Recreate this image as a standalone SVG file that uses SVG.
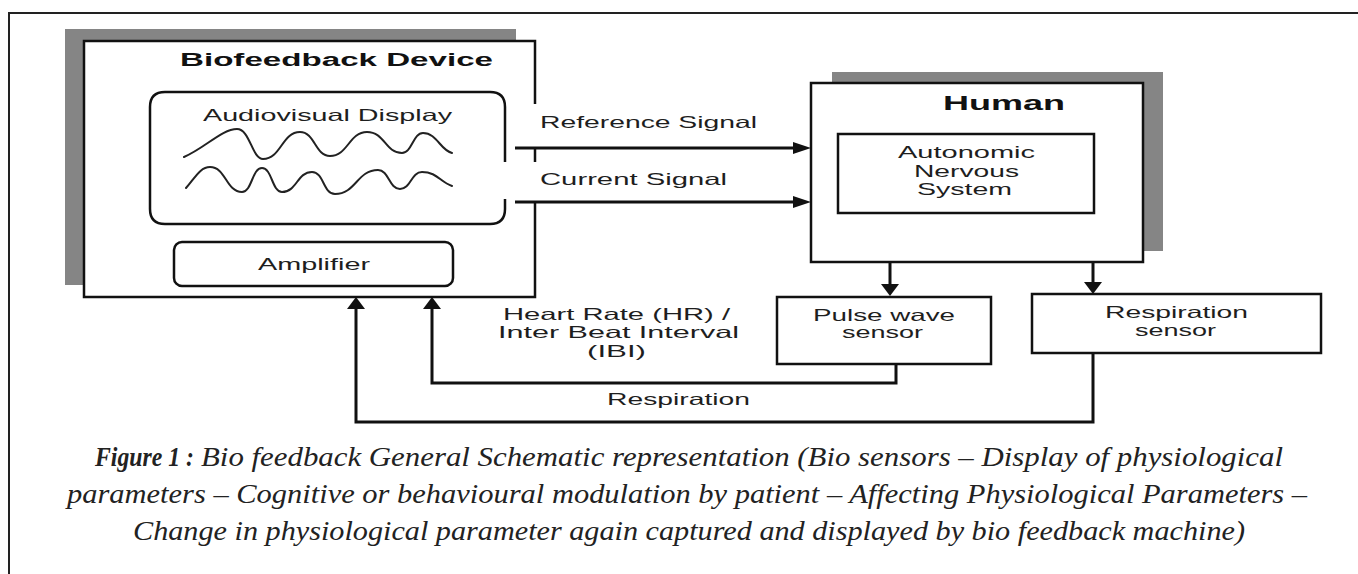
<svg xmlns="http://www.w3.org/2000/svg" width="1358" height="574" viewBox="0 0 1358 574">
  <style>
    .lbl { font-family: "Liberation Sans", Arial, sans-serif; font-size: 16.5px; fill: #1e1e1e; }
    .ttl { font-family: "Liberation Sans", Arial, sans-serif; font-weight: bold; fill: #111; }
    .box { fill: #fff; stroke: #111; stroke-width: 2.5; }
    .edge { fill: none; stroke: #111; stroke-width: 2.5; }
    .shadow { fill: #858585; }
    .wave { fill: none; stroke: #222; stroke-width: 2; stroke-linecap: round; stroke-linejoin: round; }
    .wire { fill: none; stroke: #111; stroke-width: 3; stroke-linejoin: miter; }
    .cap { font-family: "Liberation Serif", "Times New Roman", serif; font-style: italic; font-size: 27px; fill: #222; }
  </style>
  <defs>
    <marker id="arrowH" viewBox="0 0 18 12" refX="4" refY="6" markerWidth="18" markerHeight="12" markerUnits="userSpaceOnUse" orient="auto">
      <path d="M0,0 L18,6 L0,12 z" fill="#111"/>
    </marker>
    <marker id="arrowV" viewBox="0 0 12 18" refX="3" refY="9" markerWidth="12" markerHeight="18" markerUnits="userSpaceOnUse" orient="auto">
      <path d="M0,0 L12,9 L0,18 z" fill="#111"/>
    </marker>
  </defs>

  <!-- outer frame -->
  <path d="M9,574 V13 H1358" fill="none" stroke="#222" stroke-width="2"/>

  <!-- Biofeedback device -->
  <g id="biofeedback-device">
    <rect class="shadow" x="65" y="29" width="451" height="256"/>
    <rect x="84" y="41" width="451" height="256" fill="#fff"/>
    <path class="edge" d="M535,148 V162 M535,202 V297 H84 V41 H535 V104"/>
    <text class="ttl" x="180" y="66" font-size="18" textLength="313" lengthAdjust="spacingAndGlyphs">Biofeedback Device</text>
  </g>

  <g id="audiovisual-display">
    <path class="edge" d="M505,199 V209 Q505,224 490,224 H165 Q150,224 150,209 V107 Q150,92 165,92 H490 Q505,92 505,107 V162"/>
    <text class="lbl" x="203" y="121" textLength="249" lengthAdjust="spacingAndGlyphs">Audiovisual Display</text>
    <path class="wave" d="M184,157 C205,148 222,129 237,129 C250,129 252,159 263,159 C281,159 282,132 300,132 C315,132 315,156 330,156 C348,156 349,132 367,132 C385,132 385,153 402,153 C412,153 413,133 423,133 C437,133 440,150 452,153"/>
    <path class="wave" d="M186,188 C195,178 200,167 210,167 C226,167 226,192 242,192 C252,192 252,168 262,168 C272,168 272,192 282,192 C297,192 297,172 312,172 C324,172 323,194 335,194 C356,194 357,170 378,170 C389,170 389,189 400,189 C411,189 411,172 422,172 C437,172 440,182 452,186"/>
  </g>

  <g id="amplifier">
    <rect class="box" x="174" y="242" width="279" height="44" rx="8"/>
    <text class="lbl" x="258" y="270" textLength="112" lengthAdjust="spacingAndGlyphs">Amplifier</text>
  </g>

  <!-- Human -->
  <g id="human">
    <rect class="shadow" x="832" y="72" width="331" height="179"/>
    <rect class="box" x="811" y="83" width="332" height="179"/>
    <text class="ttl" x="943" y="110" font-size="20" textLength="122" lengthAdjust="spacingAndGlyphs">Human</text>
  </g>

  <g id="autonomic-nervous-system">
    <rect class="box" x="838" y="134" width="256" height="79"/>
    <text class="lbl" x="898" y="158" textLength="137" lengthAdjust="spacingAndGlyphs">Autonomic</text>
    <text class="lbl" x="914" y="177" textLength="105" lengthAdjust="spacingAndGlyphs">Nervous</text>
    <text class="lbl" x="917" y="195" textLength="95" lengthAdjust="spacingAndGlyphs">System</text>
  </g>

  <g id="pulse-wave-sensor">
    <rect class="box" x="777" y="297" width="214" height="67"/>
    <text class="lbl" x="813" y="321" textLength="142" lengthAdjust="spacingAndGlyphs">Pulse wave</text>
    <text class="lbl" x="842" y="338" textLength="81" lengthAdjust="spacingAndGlyphs">sensor</text>
  </g>

  <g id="respiration-sensor">
    <rect class="box" x="1032" y="294" width="289" height="59"/>
    <text class="lbl" x="1105" y="318" textLength="143" lengthAdjust="spacingAndGlyphs">Respiration</text>
    <text class="lbl" x="1135" y="336" textLength="81" lengthAdjust="spacingAndGlyphs">sensor</text>
  </g>

  <!-- connectors -->
  <g id="connectors">
    <path class="wire" d="M515,148 H797" marker-end="url(#arrowH)"/>
    <path class="wire" d="M515,202 H797" marker-end="url(#arrowH)"/>
    <path class="wire" d="M890,263 V287" marker-end="url(#arrowV)"/>
    <path class="wire" d="M1093,263 V285" marker-end="url(#arrowV)"/>
    <path class="wire" d="M896,365 V383 H432 V306" marker-end="url(#arrowV)"/>
    <path class="wire" d="M1093,354 V422 H356 V306" marker-end="url(#arrowV)"/>
    <text class="lbl" x="540" y="128" textLength="217" lengthAdjust="spacingAndGlyphs">Reference Signal</text>
    <text class="lbl" x="540" y="185" textLength="187" lengthAdjust="spacingAndGlyphs">Current Signal</text>
    <text class="lbl" x="503" y="320" textLength="227" lengthAdjust="spacingAndGlyphs">Heart Rate (HR) /</text>
    <text class="lbl" x="498" y="338" textLength="241" lengthAdjust="spacingAndGlyphs">Inter Beat Interval</text>
    <text class="lbl" x="587" y="357" textLength="59" lengthAdjust="spacingAndGlyphs">(IBI)</text>
    <text class="lbl" x="607" y="405" textLength="143" lengthAdjust="spacingAndGlyphs">Respiration</text>
  </g>

  <!-- caption -->
  <g id="caption">
    <text class="cap" x="95" y="466" font-weight="bold" textLength="99" lengthAdjust="spacingAndGlyphs">Figure 1 :</text>
    <text class="cap" x="201" y="466" textLength="1082" lengthAdjust="spacingAndGlyphs">Bio feedback General Schematic representation (Bio sensors – Display of physiological</text>
    <text class="cap" x="67" y="503" textLength="1240" lengthAdjust="spacingAndGlyphs">parameters – Cognitive or behavioural modulation by patient – Affecting Physiological Parameters –</text>
    <text class="cap" x="133" y="540" textLength="1112" lengthAdjust="spacingAndGlyphs">Change in physiological parameter again captured and displayed by bio feedback machine)</text>
  </g>
</svg>
